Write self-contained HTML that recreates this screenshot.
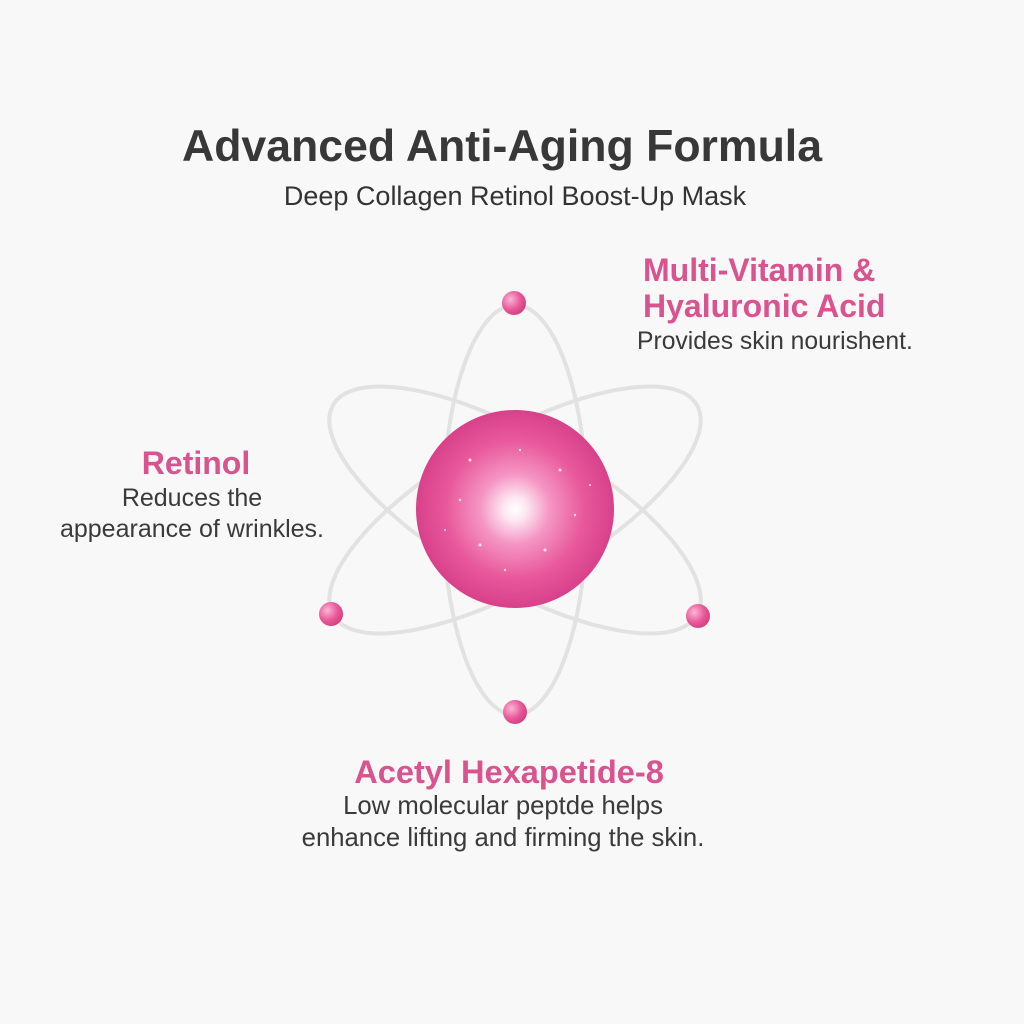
<!DOCTYPE html>
<html><head><style>
body{margin:0;width:1024px;height:1024px;background:#f8f8f8;font-family:"Liberation Sans",sans-serif;position:relative;overflow:hidden}
.t{position:absolute;white-space:nowrap;text-align:center}
.h{color:#d9538f;font-weight:bold;font-size:32px;line-height:36px}
.d{color:#3a3a3a;font-size:25px;line-height:31px}
</style></head><body>
<div class="t" style="left:2px;width:1000px;top:122px;font-size:44.6px;line-height:50px;font-weight:bold;color:#383838">Advanced Anti-Aging Formula</div>
<div class="t" style="left:15px;width:1000px;top:181px;font-size:27px;line-height:30px;color:#333">Deep Collagen Retinol Boost-Up Mask</div>
<div class="t h" style="left:643px;top:252px;text-align:left">Multi-Vitamin &amp;<br>Hyaluronic Acid</div>
<div class="t d" style="left:637px;top:326px;text-align:left;font-size:24.7px">Provides skin nourishent.</div>
<div class="t h" style="left:96px;width:200px;top:445px">Retinol</div>
<div class="t d" style="left:42px;width:300px;top:483px">Reduces the<br>appearance of wrinkles.</div>
<div class="t h" style="left:259px;width:500px;top:754px;font-size:32.6px">Acetyl Hexapetide-8</div>
<div class="t d" style="left:203px;width:600px;top:790px;font-size:25.7px;line-height:32px">Low molecular peptde helps<br>enhance lifting and firming the skin.</div>
<svg width="1024" height="1024" style="position:absolute;left:0;top:0">
<defs>
<radialGradient id="g" cx="0.5" cy="0.5" r="0.5">
<stop offset="0" stop-color="#fff"/><stop offset="0.12" stop-color="#fde6f1"/><stop offset="0.35" stop-color="#f596c3"/><stop offset="0.7" stop-color="#e8589b"/><stop offset="1" stop-color="#d8418a"/></radialGradient>
<radialGradient id="e" cx="0.35" cy="0.35" r="0.7"><stop offset="0" stop-color="#fbb6d6"/><stop offset="0.6" stop-color="#e8599a"/><stop offset="1" stop-color="#d2407f"/></radialGradient>
</defs>
<g fill="none" stroke="#e2e2e2" stroke-width="4">
<ellipse cx="515" cy="510" rx="72" ry="205"/>
<ellipse cx="515" cy="510" rx="210" ry="75" transform="rotate(30 515 510)"/>
<ellipse cx="515" cy="510" rx="210" ry="75" transform="rotate(-30 515 510)"/>
</g>
<circle cx="515" cy="509" r="99" fill="url(#g)"/>
<g fill="#fff" opacity="0.8">
<circle cx="470" cy="460" r="1.5"/><circle cx="560" cy="470" r="1.5"/><circle cx="545" cy="550" r="1.5"/><circle cx="480" cy="545" r="1.5"/><circle cx="460" cy="500" r="1.2"/><circle cx="575" cy="515" r="1.2"/><circle cx="520" cy="450" r="1.2"/><circle cx="505" cy="570" r="1.2"/><circle cx="590" cy="485" r="1"/><circle cx="445" cy="530" r="1"/>
</g>
<circle cx="514" cy="303" r="12" fill="url(#e)"/>
<circle cx="331" cy="614" r="12" fill="url(#e)"/>
<circle cx="698" cy="616" r="12" fill="url(#e)"/>
<circle cx="515" cy="712" r="12" fill="url(#e)"/>
</svg>
</body></html>
